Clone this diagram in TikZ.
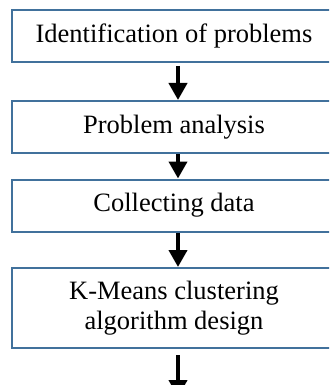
\documentclass[tikz,border=0pt]{standalone}
\usepackage{fontspec}
\setmainfont{Liberation Serif}
\usetikzlibrary{arrows.meta}
\definecolor{boxblue}{RGB}{65,113,156}
\begin{document}
\begin{tikzpicture}[x=1pt, y=-1pt,
	stepbox/.style={draw=boxblue, line width=2pt, fill=white, minimum width=324pt, minimum height=52pt, align=center, inner sep=0pt, font=\fontsize{26.5}{30}\selectfont},
	flow/.style={line width=4pt, -{Triangle[width=18pt,length=17pt]}}]
	\clip (0,0) rectangle (329,385);
	\useasboundingbox (0,0) rectangle (329,385);
	
	%boxes
	\node[stepbox] (ident) at (174, 36){Identification of problems};
	\node[stepbox] (analysis) at (174, 127){Problem analysis};
	\node[stepbox] (collect) at (174, 205.5){Collecting data};
	\node[stepbox, minimum height=80pt] (kmeans) at (174, 308){K-Means clustering\\algorithm design};
	\coordinate (next) at (178, 397);
	
	%arrows
	\draw[flow] ([xshift=4pt, yshift=-3pt]ident.south) -- ([xshift=4pt]analysis.north);
	\draw[flow] ([xshift=4pt]analysis.south) -- ([xshift=4pt]collect.north);
	\draw[flow] ([xshift=4pt]collect.south) -- ([xshift=4pt]kmeans.north);
	\draw[flow] ([xshift=4pt, yshift=-6pt]kmeans.south) -- (next);
\end{tikzpicture}
\end{document}
